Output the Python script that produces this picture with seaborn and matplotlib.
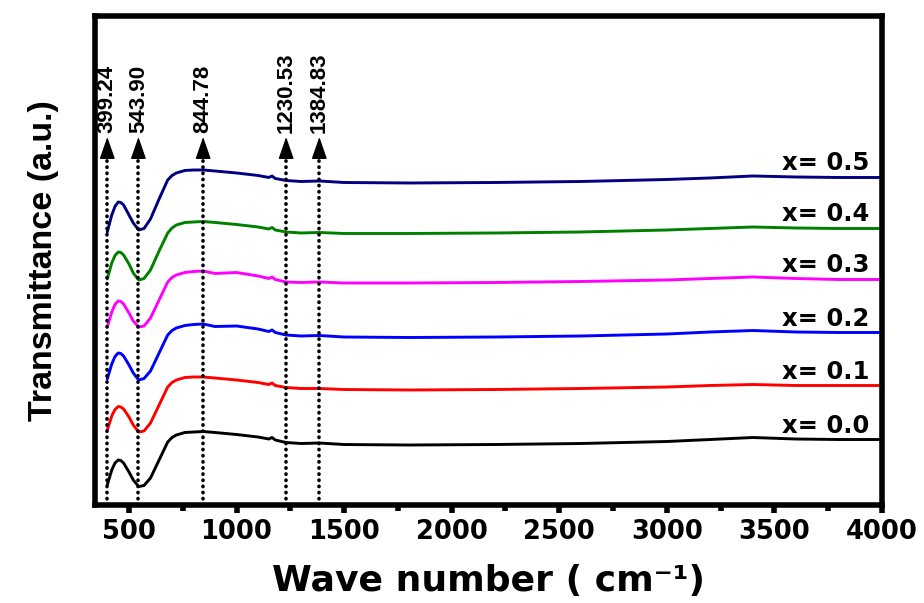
import pandas as pd
import seaborn as sns
import matplotlib.pyplot as plt
from matplotlib.ticker import MultipleLocator

# Wave numbers (cm-1) sampled along the spectra
wavenumber = [399, 420, 435, 450, 462, 475, 500, 520, 545, 570, 600, 640, 680, 700, 720, 760,
              800, 845, 900, 1000, 1100, 1150, 1165, 1180, 1230, 1300, 1385, 1500, 1800,
              2200, 2600, 3000, 3200, 3400, 3600, 3800, 4000]

# Transmittance (a.u.), curves already stacked with offset
t_00 = [20, 35, 42, 45, 44.5, 42, 33, 25, 18.5, 19.5, 27, 45, 63, 67.5, 70, 72.5,
        73, 73.5, 72.5, 70.5, 68, 66, 67.5, 65, 62.5, 61.5, 62, 60.5, 60,
        60.5, 61.5, 63.5, 65.5, 67.5, 66, 65.5, 65.5]
t_01 = [75, 89, 95.5, 98.5, 98, 96, 88, 80, 73, 74, 82, 100, 118, 122.5, 125, 127.5,
        128, 128, 127, 125, 122.5, 120.5, 122, 119.5, 117.5, 116.5, 116.5, 115.5, 115,
        115.5, 116.5, 118, 119.5, 120.5, 119.5, 119.5, 119.5]
t_02 = [126, 141, 148.5, 152, 151.5, 149, 140, 132, 125, 126.5, 134, 152, 170, 174.5, 177, 179.5,
        180.5, 181, 178.5, 179, 176, 173.5, 175, 172.5, 170, 169, 169.5, 168, 167.5,
        168, 169, 171, 173, 174.5, 173, 172.5, 172.5]
t_03 = [178, 193, 200.5, 204, 203.5, 201, 192, 184, 178, 179, 187, 205, 223, 227.5, 230, 232.5,
        233.5, 234, 231.5, 232.5, 229, 226.5, 228, 225.5, 223, 222.5, 223, 222, 222,
        222.5, 223.5, 225, 226.5, 228, 226.5, 225.5, 225.5]
t_04 = [226, 242, 249.5, 253, 252.5, 250, 241, 232, 225, 226.5, 235, 254, 272, 277, 280, 282.5,
        283, 283.5, 282.5, 280.5, 278, 276, 277.5, 275, 273, 272, 272.5, 271.5, 271.5,
        272, 273, 275, 276.5, 278, 277, 276.5, 276.5]
t_05 = [273, 290, 298.5, 303, 302.5, 300, 290, 282, 275, 276.5, 286, 306, 325, 329.5, 332, 334.5,
        335, 335, 334, 332, 329.5, 327.5, 329, 326.5, 324.5, 323.5, 324, 322.5, 322,
        322.5, 323.5, 325.5, 327, 329, 328, 327.5, 327.5]

samples = ['x= 0.0', 'x= 0.1', 'x= 0.2', 'x= 0.3', 'x= 0.4', 'x= 0.5']
colors = ['black', '#FF0000', '#0000FF', '#FF00FF', '#008000', '#000080']

peaks = [399.24, 543.90, 844.78, 1230.53, 1384.83]
peak_labels = ['399.24', '543.90', '844.78', '1230.53', '1384.83']

series = [t_00, t_01, t_02, t_03, t_04, t_05]
df = pd.concat([pd.DataFrame({'wn': wavenumber, 'T': s, 'sample': name})
                for s, name in zip(series, samples)])

sns.set_theme(style='ticks', rc={'axes.edgecolor': 'black', 'xtick.color': 'black',
                                 'text.color': 'black', 'axes.labelcolor': 'black'})
plt.rcParams['font.family'] = ['DejaVu Sans']

fig, ax = plt.subplots(figsize=(9.24, 6.03), dpi=100)
fig.subplots_adjust(left=0.1028, right=0.9545, bottom=0.1625, top=0.9735)

sns.lineplot(data=df, x='wn', y='T', hue='sample', palette=colors, sort=False,
             estimator=None, legend=False, linewidth=2.1, ax=ax)

# dotted marker lines with arrows and peak values
dots = ax.vlines(peaks, 0, 352, colors='black', linewidth=2.6, linestyles=(0, (0.1, 1.6)))
dots.set_capstyle('round')
for p, lab in zip(peaks, peak_labels):
    ax.annotate('', xy=(p, 368), xytext=(p, 352),
                arrowprops=dict(arrowstyle='-|>,head_length=1.15,head_width=0.4',
                                color='black', lw=1, shrinkA=0, shrinkB=0))
    ax.text(p, 372, lab, rotation=90, ha='center', va='bottom', fontsize=16,
            fontweight='bold', family=['Liberation Sans', 'DejaVu Sans'], color='black')

# sample labels above the right end of each curve
for s, name in zip(series, samples):
    ax.text(3942, s[-1] + 7, name, ha='right', va='baseline', fontsize=17.5,
            fontweight='bold', color='black')

ax.set_xlim(342, 4000)
ax.set_ylim(0, 489)
ax.set_xticks(range(500, 4001, 500))
ax.xaxis.set_minor_locator(MultipleLocator(250))
ax.set_yticks([])
ax.tick_params(axis='x', which='major', direction='out', length=6, width=4,
               labelsize=18.5, pad=4, top=False)
ax.tick_params(axis='x', which='minor', direction='out', length=4, width=4, top=False)
plt.setp(ax.get_xticklabels(), fontweight='bold')

for sp in ax.spines.values():
    sp.set_linewidth(4)
    sp.set_visible(True)

ax.set_xlabel('Wave number ( cm\u207b\u00b9)', fontsize=26, fontweight='bold', labelpad=14)
ax.set_ylabel('Transmittance (a.u.)', fontsize=24.5, fontweight='bold', labelpad=26,
              family=['Liberation Sans', 'DejaVu Sans'])

plt.savefig('out.png', dpi=100)
